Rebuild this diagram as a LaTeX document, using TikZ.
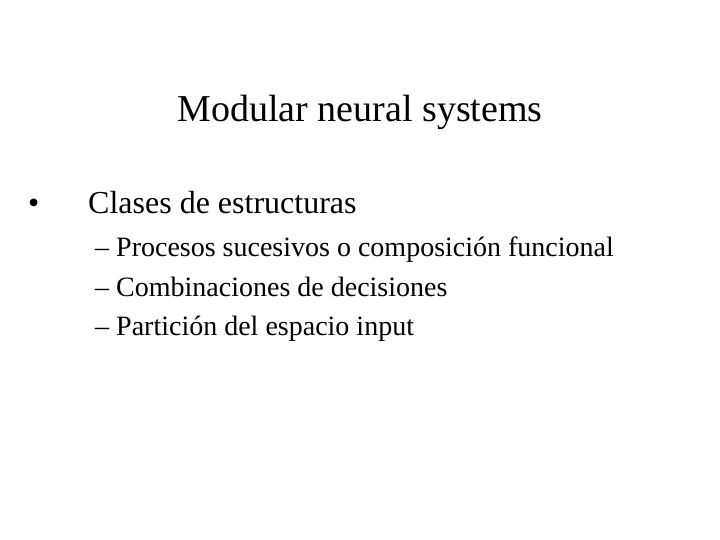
\documentclass[tikz,border=0pt]{standalone}
\usepackage{fontspec}
\setmainfont{Liberation Serif}
\begin{document}
\begin{tikzpicture}[x=1pt,y=-1pt,
  txt/.style={anchor=base west,inner sep=0pt}]
\useasboundingbox (0,0) rectangle (720,540);
\node[anchor=base,inner sep=0pt,font=\fontsize{38}{42}\selectfont] (t) at (360,122) {Modular neural systems};
\node[txt,font=\fontsize{32}{36}\selectfont] (b) at (28,214) {•};
\node[txt,font=\fontsize{32}{36}\selectfont] (b1) at (88,214) {Clases de estructuras};
\node[txt,font=\fontsize{28}{32}\selectfont] (s1) at (95,256) {–\hspace{7pt}Procesos sucesivos o composición funcional};
\node[txt,font=\fontsize{28}{32}\selectfont] (s2) at (95,296) {–\hspace{7pt}Combinaciones de decisiones};
\node[txt,font=\fontsize{28}{32}\selectfont] (s3) at (95,335) {–\hspace{7pt}Partición del espacio input};
\end{tikzpicture}
\end{document}
